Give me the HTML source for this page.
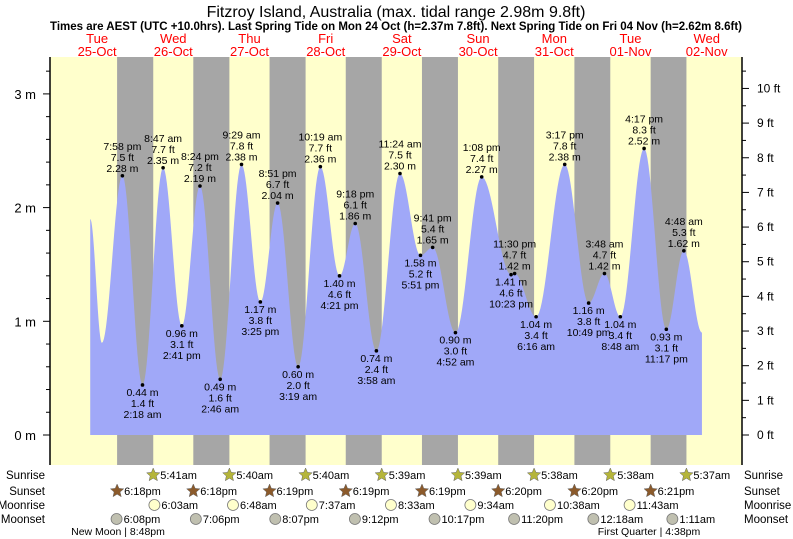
<!DOCTYPE html>
<html><head><meta charset="utf-8">
<style>
body{margin:0;background:#fff;}
svg{display:block;font-family:"Liberation Sans",sans-serif;}
</style></head>
<body>
<svg id="chart" width="793" height="539" viewBox="0 0 793 539" xmlns="http://www.w3.org/2000/svg">
<text x="396" y="17" font-size="16" text-anchor="middle">Fitzroy Island, Australia (max. tidal range 2.98m 9.8ft)</text>
<text x="396" y="30" font-size="11.5" font-weight="bold" text-anchor="middle">Times are AEST (UTC +10.0hrs). Last Spring Tide on Mon 24 Oct (h=2.37m 7.8ft). Next Spring Tide on Fri 04 Nov (h=2.62m 8.6ft)</text>
<g id="bg"></g><g id="tide"></g><g id="axes"></g><g id="labels"></g><g id="bottom"></g>
</svg>
<script>
// ---- data ----
const dayNames = ["Tue","Wed","Thu","Fri","Sat","Sun","Mon","Tue","Wed"];
const dayDates = ["25-Oct","26-Oct","27-Oct","28-Oct","29-Oct","30-Oct","31-Oct","01-Nov","02-Nov"];
// tide extremes: day offset from 25-Oct, time "HH:MM" (24h), height m
const tideDay = [0,1,1,1,1,2,2,2,2,3,3,3,3,4,4,4,4,5,5,5,5,6,6,6,7,7,7,7,8];
const tideTime = ["19:58","02:18","08:47","14:41","20:24","02:46","09:29","15:25","20:51","03:19","10:19","16:21","21:18","03:58","11:24","17:51","21:41","04:52","13:08","22:23","23:30","06:16","15:17","22:49","03:48","08:48","16:17","23:17","04:48"];
const tideM = [2.28,0.44,2.35,0.96,2.19,0.49,2.38,1.17,2.04,0.60,2.36,1.40,1.86,0.74,2.30,1.58,1.65,0.90,2.27,1.41,1.42,1.04,2.38,1.16,1.42,1.04,2.52,0.93,1.62];
const tideFt = [7.5,1.4,7.7,3.1,7.2,1.6,7.8,3.8,6.7,2.0,7.7,4.6,6.1,2.4,7.5,5.2,5.4,3.0,7.4,4.6,4.7,3.4,7.8,3.8,4.7,3.4,8.3,3.1,5.3];
const startTide = {day:0,time:"09:50",m:1.90};
const lowStart = {day:0,time:"13:30",m:0.81};
const endTide = {day:8,time:"10:30",m:0.90};
// sun & moon
const sunriseDay=[1,2,3,4,5,6,7,8];
const sunriseTime=["05:41","05:40","05:40","05:39","05:39","05:38","05:38","05:37"];
const sunsetDay=[0,1,2,3,4,5,6,7];
const sunsetTime=["18:18","18:18","18:19","18:19","18:19","18:20","18:20","18:21"];
const moonriseDay=[1,2,3,4,5,6,7];
const moonriseTime=["06:03","06:48","07:37","08:33","09:34","10:38","11:43"];
const moonsetDay=[0,1,2,3,4,5,7,8];
const moonsetTime=["18:08","19:06","20:07","21:12","22:17","23:20","00:18","01:11"];
const yTicksM=[0,1,2,3];
const yTicksFt=[0,1,2,3,4,5,6,7,8,9,10];

// ---- scales ----
const X0=59, PXH=3.175, PL=50, PR=742, PT=57, PB=465;
const Y0=435, PXM=113.7;
function hrs(d,t){const [h,m]=t.split(":").map(Number);return d*24+h+m/60;}
function xs(h){return X0+h*PXH;}
function ym(m){return Y0-m*PXM;}
function yft(f){return Y0-f*PXM/3.28084;}
function fmt12(t){let [h,m]=t.split(":").map(Number);const ap=h>=12?"pm":"am";h=h%12;if(h===0)h=12;return h+":"+String(m).padStart(2,"0")+ap;}
const NS="http://www.w3.org/2000/svg";
function mk(tag,attrs,parent,txt){const e=document.createElementNS(NS,tag);for(const k in attrs)e.setAttribute(k,attrs[k]);if(txt!==undefined)e.textContent=txt;parent.appendChild(e);return e;}

const bg=document.getElementById("bg");
let r=mk("rect",{x:PL,y:PT,width:PR-PL,height:PB-PT,fill:"#ffffcc"},bg);


// nights
for(let i=0;i<sunsetDay.length;i++){
  const a=xs(hrs(sunsetDay[i],sunsetTime[i]));
  let b= i<sunriseDay.length? xs(hrs(sunriseDay[i],sunriseTime[i])) : PR;
  b=Math.min(b,PR);
  const n=mk("rect",{x:a,y:PT,width:b-a,height:PB-PT,fill:"#a6a6a6"},bg);
  
  
}
// day labels
for(let i=0;i<dayNames.length;i++){
  const x=xs(i*24+12);
  const t1=mk("text",{x:x,y:43,"font-size":"13",fill:"#ff0000","text-anchor":"middle"},bg,dayNames[i]);
  
  
  const t2=mk("text",{x:x,y:56,"font-size":"13",fill:"#ff0000","text-anchor":"middle"},bg,dayDates[i]);
  
  
}

// tide curve
const pts=[{h:hrs(startTide.day,startTide.time),m:startTide.m},{h:hrs(lowStart.day,lowStart.time),m:lowStart.m}];
for(let i=0;i<tideM.length;i++)pts.push({h:hrs(tideDay[i],tideTime[i]),m:tideM[i]});
pts.push({h:hrs(endTide.day,endTide.time),m:endTide.m});
let d="M"+xs(pts[0].h)+","+ym(0)+" L"+xs(pts[0].h)+","+ym(pts[0].m);
for(let i=0;i<pts.length-1;i++){
  const p=pts[i],q=pts[i+1];
  for(let s=1;s<=20;s++){
    const f=s/20, hh=p.h+(q.h-p.h)*f, mm=p.m+(q.m-p.m)*(1-Math.cos(Math.PI*f))/2;
    d+=" L"+xs(hh).toFixed(2)+","+ym(mm).toFixed(2);
  }
}
d+=" L"+xs(pts[pts.length-1].h)+","+ym(0)+" Z";
const tg=document.getElementById("tide");
const area=mk("path",{d:d,fill:"#a0a8f8"},tg);



// extreme labels
const lg=document.getElementById("labels");
for(let i=0;i<tideM.length;i++){
  const x=xs(hrs(tideDay[i],tideTime[i])), y=ym(tideM[i]);
  const prev=i===0?lowStart.m:tideM[i-1], next=i===tideM.length-1?endTide.m:tideM[i+1];
  const high=tideM[i]>prev&&tideM[i]>next;
  const dot=mk("circle",{cx:x,cy:y,r:1.8,fill:"#000"},lg);
  
  
  const lines=high?[fmt12(tideTime[i]).replace(/(am|pm)/," $1"),tideFt[i].toFixed(1)+" ft",tideM[i].toFixed(2)+" m"]
                  :[tideM[i].toFixed(2)+" m",tideFt[i].toFixed(1)+" ft",fmt12(tideTime[i]).replace(/(am|pm)/," $1")];
  const base=high?y-26:y+11;
  lines.forEach((l,k)=>{
    const t=mk("text",{x:x,y:base+k*11,"font-size":"10.5","text-anchor":"middle",fill:"#000"},lg,l);
    
    
  });
}

// axes
const ax=document.getElementById("axes");
let la=mk("line",{x1:PL,y1:PT,x2:PL,y2:PB,stroke:"#000","stroke-width":1.5},ax);


let ra=mk("line",{x1:PR,y1:PT,x2:PR,y2:PB,stroke:"#000","stroke-width":1.5},ax);


for(let v=0;v<=3.3;v+=0.2){
  const y=ym(v);if(y<PT)break;
  const major=Math.abs(v-Math.round(v))<0.01;
  mk("line",{x1:major?43:46,y1:y,x2:PL,y2:y,stroke:"#000"},ax);
}
yTicksM.forEach(v=>{
  const t=mk("text",{x:36,y:ym(v)+5,"font-size":"13","text-anchor":"end"},ax,v+" m");
  
  
});
for(let f=0;f<=10.5;f+=0.5){
  const y=yft(f);const major=Math.abs(f-Math.round(f))<0.01;
  mk("line",{x1:PR,y1:y,x2:major?749:746,y2:y,stroke:"#000"},ax);
}
yTicksFt.forEach(v=>{
  const t=mk("text",{x:757,y:yft(v)+4,"font-size":"12"},ax,v+" ft");
  
  
});

// bottom rows
const bt=document.getElementById("bottom");
const rows=[["Sunrise",479],["Sunset",495],["Moonrise",509],["Moonset",523]];
rows.forEach(([n,y])=>{
  const a=mk("text",{x:45,y:y,"font-size":"11.5","text-anchor":"end"},bt,n);
  
  
  const b=mk("text",{x:744,y:y,"font-size":"11.5"},bt,n);
  
  
});
function star(cx,cy,fill){let p="";for(let k=0;k<10;k++){const rr=k%2?3.2:7,a=-Math.PI/2+k*Math.PI/5;p+=(cx+rr*Math.cos(a)).toFixed(1)+","+(cy+rr*Math.sin(a)).toFixed(1)+" ";}return mk("polygon",{points:p,fill:fill,stroke:"#666","stroke-width":0.5},bt);}
function row(days,times,y,kind){
  for(let i=0;i<days.length;i++){
    const x=xs(hrs(days[i],times[i]));
    let ic;
    if(kind==="sunrise")ic=star(x,y-4,"#b5b53a");
    else if(kind==="sunset")ic=star(x,y-4,"#8b5a2b");
    else ic=mk("circle",{cx:x,cy:y-4,r:5.5,fill:kind==="moonrise"?"#ffffcc":"#c0c0b0",stroke:"#777","stroke-width":0.8},bt);
    
    
    const t=mk("text",{x:x+7,y:y,"font-size":"11"},bt,fmt12(times[i]));
    
    
  }
}
row(sunriseDay,sunriseTime,479,"sunrise");
row(sunsetDay,sunsetTime,495,"sunset");
row(moonriseDay,moonriseTime,509,"moonrise");
row(moonsetDay,moonsetTime,523,"moonset");
let nm=mk("text",{x:118,y:535,"font-size":"10.5","text-anchor":"middle"},bt,"New Moon | 8:48pm");


let fq=mk("text",{x:649,y:535,"font-size":"10.5","text-anchor":"middle"},bt,"First Quarter | 4:38pm");


</script>
</body></html>
